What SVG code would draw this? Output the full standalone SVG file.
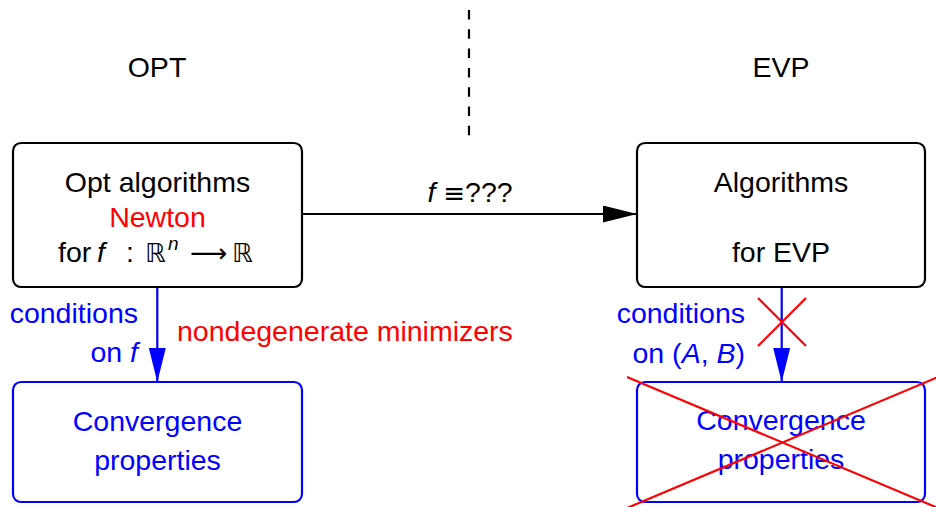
<svg xmlns="http://www.w3.org/2000/svg" width="936" height="507" viewBox="0 0 936 507">
<defs>
<style>
text{font-family:"Liberation Sans",Arial,sans-serif;font-size:28.5px;text-anchor:middle}
.k{fill:#000}.b{fill:#0000ff}.r{fill:#ff0000}
.it{font-style:italic}
.ds{font-family:"DejaVu Sans",sans-serif;font-size:26px}
.box{fill:#fff;stroke-width:2.2}
.bk{stroke:#000}.bl{stroke:#0000ff}
.cross{stroke:#ff0000;stroke-width:2.2;fill:none}
</style>
<marker id="ahk" markerUnits="userSpaceOnUse" markerWidth="36" markerHeight="18" refX="34" refY="8.5" orient="auto"><polygon points="0,0 34,8.5 0,17" fill="#000"/></marker>
<marker id="ahb" markerUnits="userSpaceOnUse" markerWidth="36" markerHeight="18" refX="34" refY="8.5" orient="auto"><polygon points="0,0 34,8.5 0,17" fill="#0000ff"/></marker>
</defs>
<rect width="936" height="507" fill="#fff"/>
<g id="divider"><line x1="469" y1="10" x2="469" y2="136" stroke="#000" stroke-width="2.2" stroke-dasharray="9.5 9.8"/></g>
<g id="titles">
<text x="157" y="77" class="k">OPT</text>
<text x="781" y="77" class="k">EVP</text>
</g>
<g id="connectors">
<line x1="302" y1="214" x2="637" y2="214" stroke="#000" stroke-width="2.2" marker-end="url(#ahk)"/>
<line x1="157.3" y1="287" x2="157.3" y2="382" stroke="#0000ff" stroke-width="2.2" marker-end="url(#ahb)"/>
<line x1="781.7" y1="287" x2="781.7" y2="382" stroke="#0000ff" stroke-width="2.2" marker-end="url(#ahb)"/>
<text x="470" y="202" class="k"><tspan class="it">f</tspan> <tspan class="ds">≡</tspan>???</text>
<text x="138" y="323" class="b" style="text-anchor:end">conditions</text>
<text x="138" y="362" class="b" style="text-anchor:end">on <tspan class="it">f</tspan></text>
<text x="177" y="341" class="r" style="text-anchor:start">nondegenerate minimizers</text>
<text x="745" y="323" class="b" style="text-anchor:end">conditions</text>
<text x="745" y="363" class="b" style="text-anchor:end">on (<tspan class="it">A</tspan>, <tspan class="it">B</tspan>)</text>
<path d="M758,298 L806,346 M806,298 L758,346" class="cross"/>
</g>
<g id="opt-algorithms">
<rect x="13" y="143" width="289" height="144" rx="8" class="box bk"/>
<text x="157.5" y="192" class="k">Opt algorithms</text>
<text x="157.5" y="227" class="r">Newton</text>
<text y="262" class="k" style="text-anchor:start"><tspan x="58">for</tspan><tspan x="97" class="it">f</tspan><tspan x="126">:</tspan><tspan x="145" class="ds" font-size="32">ℝ</tspan><tspan x="168" y="250" class="it" font-size="19">n</tspan><tspan x="190" y="262" class="ds" font-size="29">⟶</tspan><tspan x="232" class="ds" font-size="32">ℝ</tspan></text>
</g>
<g id="evp-algorithms">
<rect x="637" y="143" width="288" height="144" rx="8" class="box bk"/>
<text x="781" y="192" class="k">Algorithms</text>
<text x="781" y="262" class="k">for EVP</text>
</g>
<g id="opt-convergence">
<rect x="13" y="382" width="289" height="120" rx="8" class="box bl"/>
<text x="157.5" y="431" class="b">Convergence</text>
<text x="157.5" y="470" class="b">properties</text>
</g>
<g id="evp-convergence">
<rect x="637" y="382" width="288" height="120" rx="8" class="box bl"/>
<text x="781" y="430" class="b">Convergence</text>
<text x="781" y="469" class="b">properties</text>
<path d="M627,377 L938,508 M627,508 L938,377" class="cross"/>
</g>
</svg>
